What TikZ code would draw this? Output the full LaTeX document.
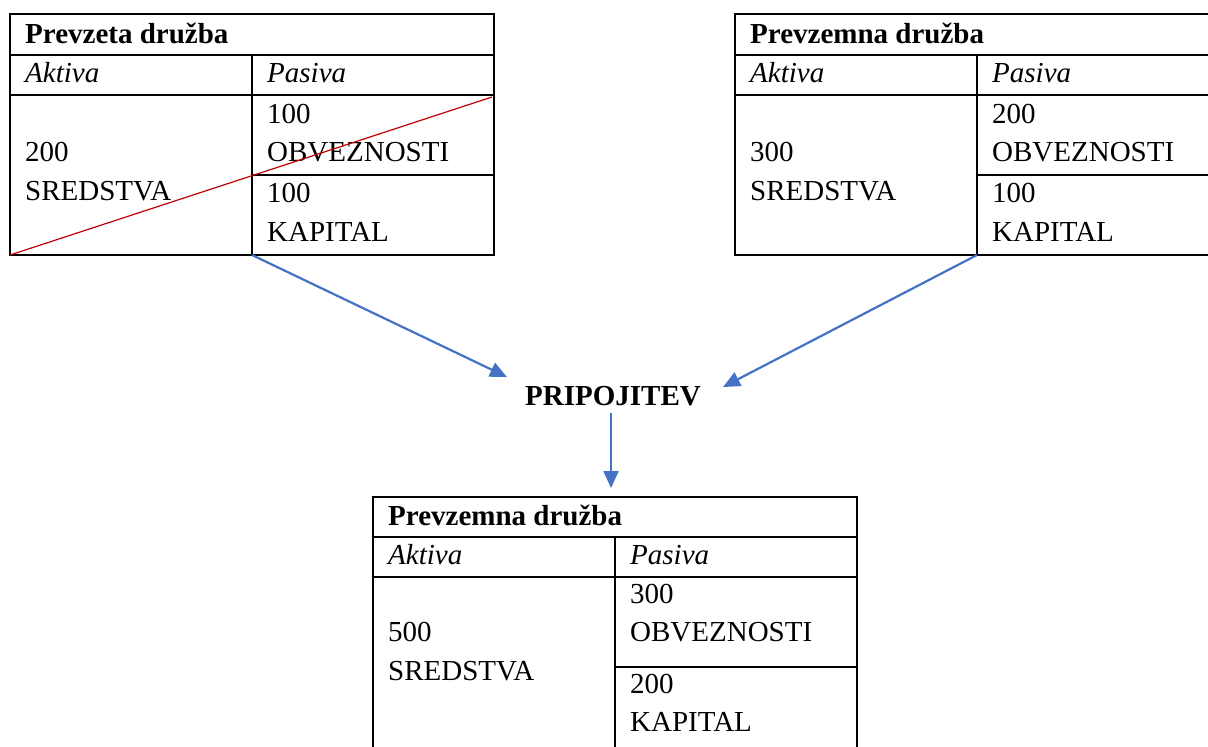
\documentclass[tikz,border=0pt]{standalone}
\usepackage{fontspec}
\setmainfont{Liberation Serif}
\usetikzlibrary{arrows.meta}
\definecolor{flowblue}{RGB}{68,114,196}
\definecolor{strikered}{RGB}{192,0,0}
\begin{document}
\begin{tikzpicture}[x=1pt,y=-1pt,
  rule/.style={line width=2pt, line cap=rect},
  txt/.style={anchor=base west, inner sep=0pt, font=\fontsize{29}{35}\selectfont},
  head/.style={txt, font=\fontsize{29}{35}\selectfont\bfseries},
  colhead/.style={txt, font=\fontsize{29}{35}\selectfont\itshape},
  flow/.style={draw=flowblue, line width=2.2pt, -{Triangle[length=17pt,width=15pt]}}]
\useasboundingbox (0,0) rectangle (1208,747);
\clip (0,0) rectangle (1208,747);

% --- acquired company (struck through) ---
\draw[rule] (10,14) rectangle (494,255);
\draw[rule] (10,55) -- (494,55) (10,95) -- (494,95)
            (252,55) -- (252,255) (252,175) -- (494,175);
\node[head]    (a-title) at (25,43)  {Prevzeta družba};
\node[colhead] (a-akt)   at (25,82)  {Aktiva};
\node[colhead] (a-pas)   at (267,82) {Pasiva};
\node[txt] (a-s1) at (25,161)  {200};
\node[txt] (a-s2) at (25,200)  {SREDSTVA};
\node[txt] (a-o1) at (267,123) {100};
\node[txt] (a-o2) at (267,161) {OBVEZNOSTI};
\node[txt] (a-k1) at (267,202) {100};
\node[txt] (a-k2) at (267,241) {KAPITAL};
\coordinate (a-foot) at (252,255);
\draw[strikered, line width=1.2pt] (10,255) -- (492,97);

% --- acquiring company ---
\begin{scope}[shift={(725,0)}]
\draw[rule] (10,14) rectangle (494,255);
\draw[rule] (10,55) -- (494,55) (10,95) -- (494,95)
            (252,55) -- (252,255) (252,175) -- (494,175);
\node[head]    (b-title) at (25,43)  {Prevzemna družba};
\node[colhead] (b-akt)   at (25,82)  {Aktiva};
\node[colhead] (b-pas)   at (267,82) {Pasiva};
\node[txt] (b-s1) at (25,161)  {300};
\node[txt] (b-s2) at (25,200)  {SREDSTVA};
\node[txt] (b-o1) at (267,123) {200};
\node[txt] (b-o2) at (267,161) {OBVEZNOSTI};
\node[txt] (b-k1) at (267,202) {100};
\node[txt] (b-k2) at (267,241) {KAPITAL};
\coordinate (b-foot) at (252,255);
\end{scope}

% --- merger ---
\node[head, anchor=base] (merge) at (613,405) {PRIPOJITEV};
\coordinate (merge-l)   at (507,377);
\coordinate (merge-r)   at (723,387);
\coordinate (merge-out) at (611,413);
\coordinate (c-in)      at (611,488);

% --- acquiring company after the merger ---
\draw[rule] (373,497) rectangle (857,757);
\draw[rule] (373,537) -- (857,537) (373,577) -- (857,577)
            (615,537) -- (615,757) (615,667) -- (857,667);
\node[head]    (c-title) at (388,525) {Prevzemna družba};
\node[colhead] (c-akt)   at (388,564) {Aktiva};
\node[colhead] (c-pas)   at (630,564) {Pasiva};
\node[txt] (c-s1) at (388,641) {500};
\node[txt] (c-s2) at (388,680) {SREDSTVA};
\node[txt] (c-o1) at (630,603) {300};
\node[txt] (c-o2) at (630,641) {OBVEZNOSTI};
\node[txt] (c-k1) at (630,693) {200};
\node[txt] (c-k2) at (630,731) {KAPITAL};

% --- flow arrows ---
\draw[flow] (a-foot) -- (merge-l);
\draw[flow] (b-foot) -- (merge-r);
\draw[flow] (merge-out) -- (c-in);
\end{tikzpicture}
\end{document}
